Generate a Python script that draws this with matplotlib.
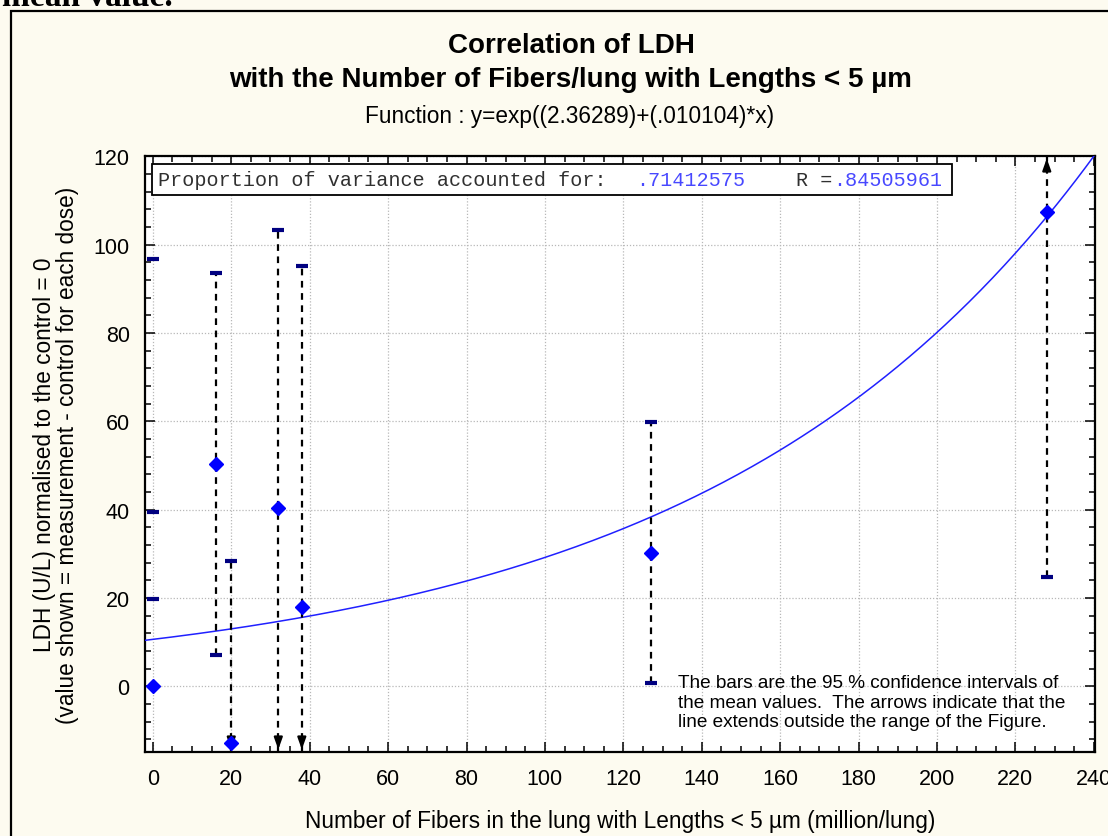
import numpy as np
import matplotlib.pyplot as plt
from matplotlib.patches import Rectangle
from matplotlib.ticker import MultipleLocator

plt.rcParams['font.family'] = ['Liberation Sans', 'DejaVu Sans']

### data
fibers = [16, 20, 32, 38, 127, 228]
ldh_mean = [50.4, -12.8, 40.4, 18.0, 30.1, 107.3]
ci_upper = [93.7, 28.3, 103.3, 95.2, 59.9, None]   # None = beyond top of figure
ci_lower = [7.0, None, None, None, 0.7, 24.8]      # None = beyond bottom of figure
control_x = 0
control_mean = 0.0
control_caps = [96.7, 39.4, 19.8]

# fitted function y = exp(a + b*x), as printed on the chart
fit_a = 2.36289
fit_b = 0.010104
r2_text = '.71412575'
r_text = '.84505961'

xlim = (-2.0, 240.3)
ylim = (-14.95, 120.15)

W, H = 1108, 837
fig = plt.figure(figsize=(W / 100, H / 100), dpi=100, facecolor='#fdfbf0')
ax = fig.add_axes([145 / W, 1 - 753.3 / H, 950 / W, 596.6 / H])
ax.set_facecolor('white')
ax.set_xlim(*xlim)
ax.set_ylim(*ylim)

# page fragment + frame
fig.text(2 / W, 1 - 6 / H, 'mean value.', family='Liberation Serif', weight='bold',
         fontsize=24, va='baseline', ha='left')
fig.patches.append(Rectangle((11 / W, -0.05), 1.2, 1 - 12 / H + 0.05, transform=fig.transFigure,
                             fill=False, edgecolor='black', lw=1.6, clip_on=False))

# grid and ticks
ax.xaxis.set_major_locator(MultipleLocator(20))
ax.xaxis.set_minor_locator(MultipleLocator(5))
ax.yaxis.set_major_locator(MultipleLocator(20))
ax.yaxis.set_minor_locator(MultipleLocator(4))
ax.grid(True, which='major', color='#b8b8b8', linestyle=(0, (1, 1.5)), lw=0.9)
ax.tick_params(which='both', direction='in', top=True, right=True, color='black', width=1.1)
ax.tick_params(which='major', length=7, labelsize=15.5, pad=11)
ax.tick_params(which='minor', length=4)
for s in ax.spines.values():
    s.set_linewidth(1.6)
ax.set_axisbelow(True)

# fitted curve
xs = np.linspace(xlim[0], xlim[1], 400)
ax.plot(xs, np.exp(fit_a + fit_b * xs), color='#2020ff', lw=1.1, zorder=3)

# confidence intervals
dash = (0, (3, 2.5))
cap_kw = dict(marker='_', ms=9, mew=3, color='#000080', ls='none', zorder=5, clip_on=False)
arrow_kw = dict(arrowstyle='-|>,head_length=0.7,head_width=0.25', color='black', lw=1.6)
for x, m, up, lo in zip(fibers, ldh_mean, ci_upper, ci_lower):
    top = up if up is not None else ylim[1]
    bot = lo if lo is not None else ylim[0]
    ax.plot([x, x], [bot, top], color='black', lw=1.6, ls=dash, zorder=4)
    if up is not None:
        ax.plot([x], [up], **cap_kw)
    else:
        ax.annotate('', xy=(x, ylim[1]), xytext=(x, ylim[1] - 4),
                    arrowprops=arrow_kw, annotation_clip=False, zorder=6)
    if lo is not None:
        ax.plot([x], [lo], **cap_kw)
    else:
        ax.annotate('', xy=(x, ylim[0]), xytext=(x, ylim[0] + 4),
                    arrowprops=arrow_kw, annotation_clip=False, zorder=6)
for c in control_caps:
    ax.plot([control_x], [c], **cap_kw)

ax.plot(fibers + [control_x], ldh_mean + [control_mean], 'D', color='#0000ff', ms=7.5,
        ls='none', zorder=7, clip_on=False)

# variance box
ax.add_patch(Rectangle((0.0074, 0.934), 0.842, 0.052, transform=ax.transAxes,
                       facecolor='white', edgecolor='black', lw=1.3, zorder=8))
mono = dict(family='Liberation Mono', fontsize=14.5, va='center', ha='left',
            transform=ax.transAxes, zorder=9)
yb = 0.960
ax.text((158 - 145) / 950, yb, 'Proportion of variance accounted for:', color='#303030', **mono)
ax.text((636 - 145) / 950, yb, r2_text, color='#4848ff', **mono)
ax.text((796 - 145) / 950, yb, 'R =', color='#303030', **mono)
ax.text((833 - 145) / 950, yb, r_text, color='#4848ff', **mono)

# note
ax.text((678 - 145) / 950, (753.3 - 675) / 596.6,
        'The bars are the 95 % confidence intervals of\n'
        'the mean values.  The arrows indicate that the\n'
        'line extends outside the range of the Figure.',
        fontsize=13.7, va='top', ha='left', linespacing=1.2, transform=ax.transAxes, zorder=9)

# titles and labels
fig.text(571 / W, 1 - 46 / H, 'Correlation of LDH', fontsize=20, weight='bold', ha='center', va='center')
fig.text(571 / W, 1 - 80 / H, 'with the Number of Fibers/lung with Lengths < 5 µm', fontsize=20,
         weight='bold', ha='center', va='center')
fig.text(570 / W, 1 - 117 / H, 'Function : y=exp((2.36289)+(.010104)*x)', fontsize=16.3,
         ha='center', va='center')
fig.text(620 / W, 1 - 822 / H, 'Number of Fibers in the lung with Lengths < 5 µm (million/lung)',
         fontsize=16.3, ha='center', va='center')
fig.text(45 / W, 1 - 455 / H, 'LDH (U/L) normalised to the control = 0', fontsize=16.3,
         rotation=90, ha='center', va='center')
fig.text(68 / W, 1 - 455 / H, '(value shown = measurement - control for each dose)', fontsize=16.3,
         rotation=90, ha='center', va='center')

fig.savefig('out.png', dpi=100, facecolor=fig.get_facecolor())
